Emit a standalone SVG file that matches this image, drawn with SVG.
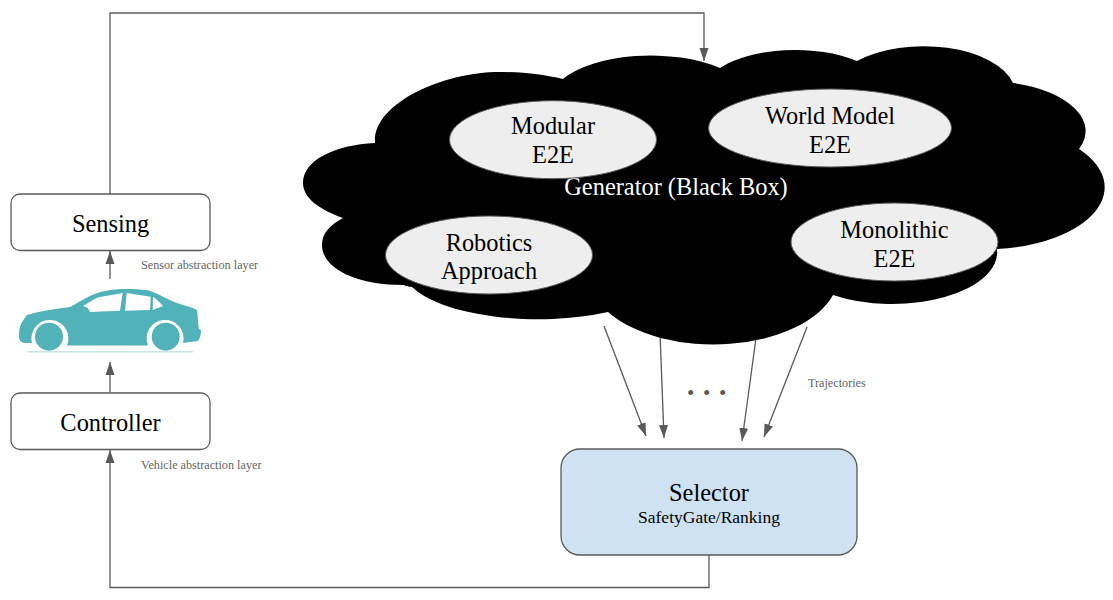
<svg xmlns="http://www.w3.org/2000/svg" width="1113" height="600" viewBox="0 0 1113 600">
<style>
text{font-family:"Liberation Serif","Times New Roman",serif;text-anchor:middle;fill:#000}
.n{font-size:24.4px}
.s{font-size:12.2px;fill:#666;text-anchor:start}
.box{fill:#fff;stroke:#595959;stroke-width:1.3}
.ell{fill:#eee;stroke:#595959;stroke-width:1}
.c{fill:none;stroke:#595959;stroke-width:1.3}
.teal{fill:#52b2b9}
</style>
<defs>
<marker id="a" markerUnits="userSpaceOnUse" markerWidth="14" markerHeight="12" refX="13" refY="5" orient="auto" viewBox="0 0 14 10"><path d="M0,0.5 L13,5 L0,9.5 Z" fill="#595959"/></marker>
</defs>
<g id="connectors">
<path class="c" marker-end="url(#a)" d="M110,194 V13 H704 V61"/>
<path class="c" marker-end="url(#a)" d="M110,279 V251"/>
<path class="c" marker-end="url(#a)" d="M110,392 V362"/>
<path class="c" marker-end="url(#a)" d="M709,555 V587.500 H110 V450"/>
<path class="c" marker-end="url(#a)" d="M604,326 L646,436"/>
<path class="c" marker-end="url(#a)" d="M660,333 L664,438"/>
<path class="c" marker-end="url(#a)" d="M756,338 L742,441"/>
<path class="c" marker-end="url(#a)" d="M807,327 L764,437"/>
</g>
<g id="generator">
<path fill="#000" d="M375,143 C372,105 440,72 500,72 C525,72 545,75 563,79 A100,45 0 0 1 720,68 A90,40 0 0 1 857,61 A92,48 0 0 1 1013,83 A100,50 0 0 1 1079,149 A120,62 0 0 1 997,249 A105,52 0 0 1 833,295 A125,70 0 0 1 608,312 A135,50 0 0 1 412,287 C405,286 404,285 403,285 C355,285 322,268 322,245 C322,233 330,225 343,218 C320,210 303,198 303,183 C303,160 335,145 375,143 Z"/>
<text class="n" x="676" y="195" style="fill:#fff">Generator (Black Box)</text>
</g>
<g id="modular"><ellipse class="ell" cx="553" cy="139.700" rx="103.500" ry="39"/><text class="n" x="553" y="134">Modular</text><text class="n" x="553" y="163">E2E</text></g>
<g id="world-model"><ellipse class="ell" cx="830" cy="128" rx="121.500" ry="39"/><text class="n" x="830" y="124">World Model</text><text class="n" x="830" y="153">E2E</text></g>
<g id="robotics"><ellipse class="ell" cx="489" cy="255" rx="103.500" ry="39"/><text class="n" x="489" y="251">Robotics</text><text class="n" x="489" y="279">Approach</text></g>
<g id="monolithic"><ellipse class="ell" cx="894.500" cy="242" rx="103.500" ry="39"/><text class="n" x="894.500" y="238">Monolithic</text><text class="n" x="894.500" y="267">E2E</text></g>
<g id="sensing"><rect class="box" x="11" y="194" width="199" height="56.500" rx="9"/><text class="n" x="110.500" y="232">Sensing</text></g>
<g id="controller"><rect class="box" x="11" y="393" width="199" height="56.500" rx="9"/><text class="n" x="110.500" y="431">Controller</text></g>
<g id="selector"><rect x="561" y="449" width="296" height="106" rx="19" fill="#cfe2f3" stroke="#595959" stroke-width="1.300"/><text class="n" x="709" y="501">Selector</text><text x="709" y="523" font-size="17.500px">SafetyGate/Ranking</text></g>
<g id="car">
<path class="teal" d="M19,335 C19,325 22,322 27,315 C40,311 55,309 70,307 C80,302 90,294 105,291 C118,288 135,289 147,290 C160,294 168,300 177,303 C185,306 192,307 197,310 C198,318 198,325 199,329 L201,330 C201,335 200,338 198,341 L183,343 A18.500,18.500 0 1 0 148,345.500 L67,345.500 A18.500,18.500 0 1 0 32,343 L24,343 C20,342 19,340 19,335 Z"/>
<path fill="#fff" d="M83,306 C90,302 95,298 100,297 L122.700,293 L120,310.700 L90,312 L88,308 Z M126.700,293 L150.700,296.700 L150,310 L125,310.700 Z M153,297 C157,299 160,303 163,306 L152.700,310 Z"/>
<circle class="teal" cx="49" cy="336.700" r="14"/><circle class="teal" cx="165.700" cy="336.700" r="14"/>
<path d="M27,351.700 H193" stroke="#c5e5e7" stroke-width="1.500" fill="none"/>
</g>
<g id="labels">
<text class="s" x="141" y="269">Sensor abstraction layer</text>
<text class="s" x="141" y="469">Vehicle abstraction layer</text>
<text class="s" x="808" y="387">Trajectories</text>
<text x="687 703 719" y="400" font-size="21px" style="fill:#595959;text-anchor:start">•••</text>
</g>
</svg>
